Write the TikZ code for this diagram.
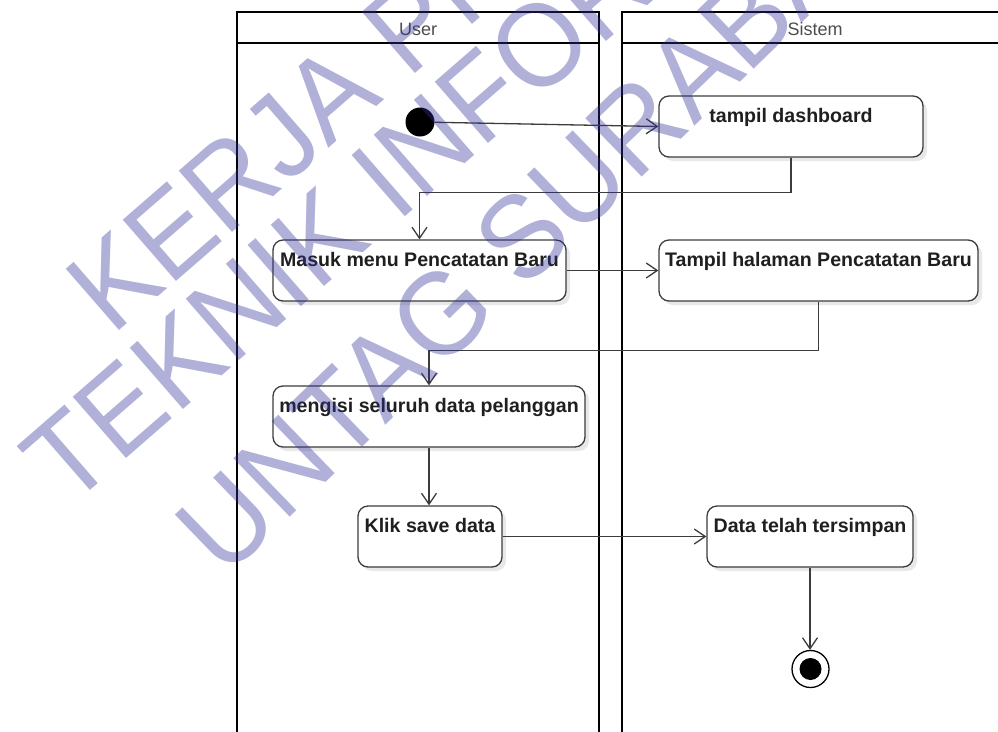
\documentclass[tikz,border=0pt]{standalone}
\usepackage{fontspec}
\setmainfont{Liberation Sans}
\newfontfamily\wmfont[FakeStretch=0.95]{Liberation Sans}
\usetikzlibrary{arrows.meta,shadows}
\definecolor{lineclr}{HTML}{3C3C3C}
\definecolor{wmark}{RGB}{47,47,152}
\begin{document}
\begin{tikzpicture}[x=1pt,y=-1pt,
  lane/.style={draw=black,line width=2.2pt},
  act/.style={draw=lineclr,line width=1.3pt,rounded corners=10pt,fill=white,
    minimum height=61pt,inner xsep=0pt,inner ysep=0pt,text height=26pt,text depth=35pt,
    font=\fontsize{19.6}{21}\selectfont\bfseries,text=black!88,
    drop shadow={shadow xshift=4pt,shadow yshift=-4pt,fill=black!9,opacity=1}},
  flow/.style={draw=lineclr,line width=1.3pt,-{Straight Barb[length=11pt,width=15pt,line width=1.3pt]}},
  head/.style={font=\fontsize{18}{20}\selectfont,text=black!70},
  wm/.style={font=\wmfont\fontsize{118}{118}\selectfont,text=wmark,text opacity=0.38,rotate=41,inner sep=0pt}]

\useasboundingbox (0,0) rectangle (998,731);
\clip (0,0) rectangle (998,731);

% swimlanes
\draw[lane] (237,745) -- (237,12) -- (599,12) -- (599,745);
\draw[lane] (237,43) -- (599,43);
\draw[lane] (622,745) -- (622,12) -- (1010,12);
\draw[lane] (622,43) -- (1010,43);
\node[head] (userlbl) at (418,29) {User};
\node[head] (sislbl) at (815,29) {Sistem};

% activities
\node[circle,fill=black,minimum size=29pt,inner sep=0pt] (start) at (420,122) {};
\node[act,minimum width=264pt] (dash) at (791,126.5) {tampil dashboard};
\node[act,minimum width=293pt] (masuk) at (419.5,270.5) {Masuk menu Pencatatan Baru};
\node[act,minimum width=319pt] (tampil) at (818.5,270.5) {Tampil halaman Pencatatan Baru};
\node[act,minimum width=312pt] (isi) at (429,416.5) {mengisi seluruh data pelanggan};
\node[act,minimum width=144pt] (klik) at (430,536.5) {Klik save data};
\node[act,minimum width=206pt] (simpan) at (810,536.5) {Data telah tersimpan};
\node[circle,draw=black,line width=1.3pt,fill=white,minimum size=37pt,inner sep=0pt] (end) at (810.5,669) {};
\node[circle,fill=black,minimum size=22pt,inner sep=0pt] (endcore) at (end) {};

% control flow
\draw[flow] (start) -- (dash.west);
\draw[flow] (dash.south) -- ++(0,35) -| (masuk.north);
\draw[flow] (masuk.east) -- (tampil.west);
\draw[flow] (tampil.south) -- ++(0,49) -| (isi.north);
\draw[flow] (isi.south) -- (isi.south |- klik.north);
\draw[flow] (klik.east) -- (simpan.west);
\draw[flow] (simpan.south) -- (simpan.south |- end.north);

% watermark
\node[wm] (wm1) at (432,6) {KERJA PRAKTEK};
\node[wm] (wm2) at (492,87) {TEKNIK INFORMATIKA};
\node[wm,rotate=3] (wm3) at (560,200) {UNTAG SURABAYA};
\end{tikzpicture}
\end{document}
